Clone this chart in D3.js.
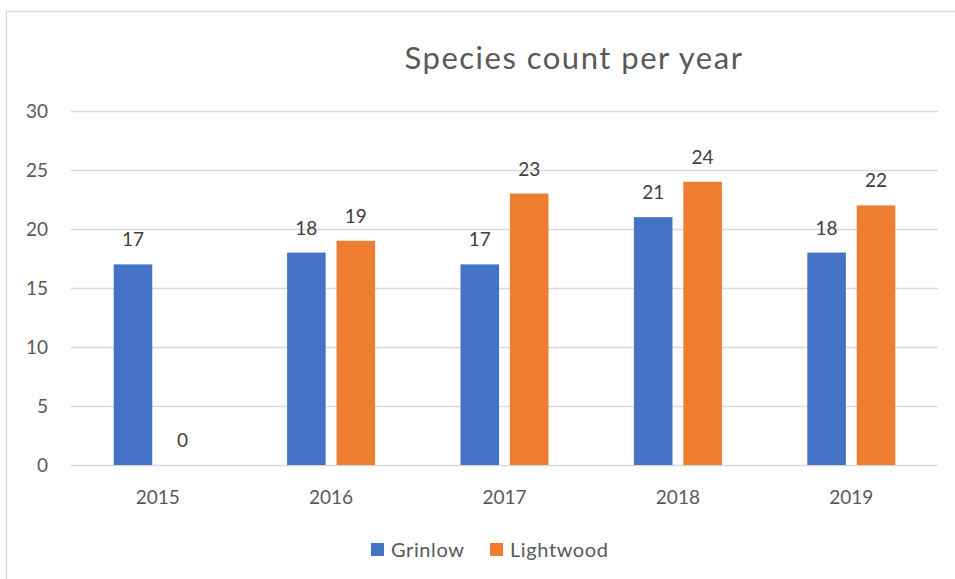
<!DOCTYPE html>
<html>
<head>
<meta charset="utf-8">
<script src="https://cdn.jsdelivr.net/npm/d3@7"></script>
<style>
  html, body { margin: 0; padding: 0; background: #fff; }
  svg { display: block; }
  text { font-family: Lato, "Open Sans", sans-serif; }
</style>
</head>
<body>
<svg id="chart" width="955" height="579"></svg>
<script>
// Species counts per site and year
const years = ["2015", "2016", "2017", "2018", "2019"];
const seriesNames = ["Grinlow", "Lightwood"];
const grinlow = [17, 18, 17, 21, 18];
const lightwood = [0, 19, 23, 24, 22];
const yTicks = [0, 5, 10, 15, 20, 25, 30];
const colors = ["#4472C4", "#ED7D31"];
const titleText = "Species count per year";

const values = [grinlow, lightwood];
const svg = d3.select("#chart");

// chart frame (extends past the right and bottom edges)
svg.append("rect")
  .attr("x", 6.5).attr("y", 11.5)
  .attr("width", 1200).attr("height", 700)
  .attr("fill", "none").attr("stroke", "#D9D9D9").attr("stroke-width", 1.3);

const plot = { left: 71, right: 938, top: 111, bottom: 465 };

const x = d3.scaleBand().domain(years).range([plot.left, plot.right]).paddingInner(0).paddingOuter(0);
const xInner = d3.scaleBand().domain(seriesNames).range([-44, 44]).paddingInner(0.22).paddingOuter(0);
const y = d3.scaleLinear().domain([0, 30]).range([plot.bottom, plot.top]);

// gridlines
svg.append("g").selectAll("line").data(yTicks).join("line")
  .attr("x1", plot.left).attr("x2", plot.right)
  .attr("y1", d => Math.round(y(d)) + 0.5).attr("y2", d => Math.round(y(d)) + 0.5)
  .attr("stroke", "#D9D9D9").attr("stroke-width", 1.3);

// y tick labels
svg.append("g").selectAll("text").data(yTicks).join("text")
  .attr("x", 48).attr("y", d => y(d))
  .attr("dy", "0.36em")
  .attr("text-anchor", "end")
  .attr("font-size", 19).attr("fill", "#595959")
  .text(d => d);

// x tick labels
svg.append("g").selectAll("text").data(years).join("text")
  .attr("x", d => x(d) + x.bandwidth() / 2).attr("y", 504)
  .attr("text-anchor", "middle")
  .attr("font-size", 19).attr("fill", "#595959")
  .text(d => d);

// bars and value labels
seriesNames.forEach((name, si) => {
  const g = svg.append("g");
  g.selectAll("rect").data(years).join("rect")
    .attr("x", d => x(d) + x.bandwidth() / 2 + xInner(name))
    .attr("width", xInner.bandwidth())
    .attr("y", (d, i) => y(values[si][i]))
    .attr("height", (d, i) => y(0) - y(values[si][i]))
    .attr("fill", colors[si]);
  g.selectAll("text").data(years).join("text")
    .attr("x", d => x(d) + x.bandwidth() / 2 + xInner(name) + xInner.bandwidth() / 2)
    .attr("y", (d, i) => y(values[si][i]) - 18)
    .attr("text-anchor", "middle")
    .attr("font-size", 19).attr("fill", "#404040")
    .text((d, i) => values[si][i]);
});

// title
svg.append("text")
  .attr("x", 574).attr("y", 69)
  .attr("text-anchor", "middle")
  .attr("font-size", 31).attr("letter-spacing", 1.5).attr("fill", "#595959")
  .text(titleText);

// legend
const legendItems = [{ name: "Grinlow", x: 371 }, { name: "Lightwood", x: 490 }];
const lg = svg.append("g");
legendItems.forEach((item, i) => {
  lg.append("rect").attr("x", item.x).attr("y", 543).attr("width", 13).attr("height", 13).attr("fill", colors[i]);
  lg.append("text").attr("x", item.x + 20).attr("y", 557)
    .attr("font-size", 20).attr("letter-spacing", 0.6).attr("fill", "#595959").text(item.name);
});
</script>
</body>
</html>
